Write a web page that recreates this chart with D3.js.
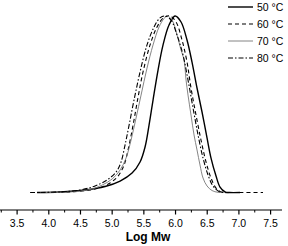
<!DOCTYPE html>
<html>
<head>
<meta charset="utf-8">
<script src="https://cdn.jsdelivr.net/npm/d3@7"></script>
<style>
  html, body { margin: 0; padding: 0; background: #fff; }
  svg { display: block; font-family: "Liberation Sans", Arial, sans-serif; }
</style>
</head>
<body>
<svg id="chart" width="288" height="246"></svg>
<script>
/* ── Data: GPC traces, normalized weight fraction vs Log Mw ── */
const xTicks = [3.5, 4.0, 4.5, 5.0, 5.5, 6.0, 6.5, 7.0, 7.5];
const xMinor = [3.25, 3.75, 4.25, 4.75, 5.25, 5.75, 6.25, 6.75, 7.25];

const t50 = [
  [3.815,0],[4.178,0.003],[4.573,0.014],[4.888,0.034],[5.125,0.065],[5.314,0.110],
  [5.440,0.173],[5.519,0.258],[5.582,0.382],[5.645,0.524],[5.724,0.694],[5.803,0.836],
  [5.897,0.949],[5.992,1.0],[6.087,0.966],[6.181,0.864],[6.260,0.739],[6.339,0.592],
  [6.418,0.456],[6.497,0.309],[6.560,0.195],[6.639,0.093],[6.702,0.031],[6.781,0.004],
  [6.85,0],[7.017,0]
];
const t60 = [
  [3.942,0],[4.336,0.003],[4.651,0.014],[4.809,0.028],[4.967,0.054],[5.093,0.093],
  [5.188,0.156],[5.251,0.241],[5.330,0.382],[5.409,0.541],[5.487,0.683],[5.598,0.836],
  [5.708,0.938],[5.817,0.992],[5.913,1.0],[6.008,0.966],[6.102,0.864],[6.181,0.739],
  [6.244,0.592],[6.323,0.439],[6.402,0.297],[6.481,0.173],[6.560,0.082],[6.639,0.025],
  [6.733,0.001],[6.85,0],[7.380,0]
];
const t70 = [
  [3.863,0],[4.336,0.003],[4.651,0.017],[4.841,0.042],[4.998,0.076],[5.125,0.127],
  [5.219,0.195],[5.298,0.297],[5.377,0.422],[5.456,0.552],[5.550,0.705],[5.645,0.836],
  [5.740,0.938],[5.819,0.986],[5.866,1.0],[5.945,0.977],[6.024,0.892],[6.087,0.807],
  [6.134,0.751],[6.166,0.637],[6.197,0.552],[6.244,0.439],[6.292,0.326],[6.339,0.241],
  [6.386,0.156],[6.434,0.082],[6.497,0.037],[6.576,0.011],[6.670,0.001],[6.781,0]
];
const t80 = [
  [3.705,0],[4.178,0.003],[4.494,0.014],[4.730,0.037],[4.920,0.071],[5.062,0.116],
  [5.140,0.173],[5.203,0.269],[5.267,0.382],[5.345,0.524],[5.440,0.683],[5.550,0.836],
  [5.661,0.938],[5.755,0.989],[5.834,1.0],[5.929,0.977],[6.024,0.892],[6.118,0.779],
  [6.197,0.637],[6.276,0.479],[6.355,0.326],[6.434,0.195],[6.513,0.099],[6.591,0.037],
  [6.686,0.006],[6.797,0]
];

const series = [
  { name: '50 °C', data: t50, color: '#000', width: 1.4, dash: null },
  { name: '60 °C', data: t60, color: '#000', width: 1.1, dash: '4,3' },
  { name: '70 °C', data: t70, color: '#777', width: 0.9, dash: null },
  { name: '80 °C', data: t80, color: '#000', width: 1.1, dash: '5,2,1.5,2' },
];

/* ── Scales ─────────────────────────────────────────── */
const svg = d3.select('#chart');
const x = d3.scaleLinear().domain([3.23, 7.68]).range([0, 282]);
const y = d3.scaleLinear().domain([0, 1]).range([192.5, 16]);

const line = d3.line()
  .x(d => x(d[0]))
  .y(d => y(d[1]))
  .curve(d3.curveCatmullRom.alpha(0.5));

// Curves
svg.append('g').selectAll('path')
  .data(series).join('path')
  .attr('d', d => line(d.data))
  .attr('fill', 'none')
  .attr('stroke', d => d.color)
  .attr('stroke-width', d => d.width)
  .attr('stroke-dasharray', d => d.dash);

/* ── X axis (ticks pointing down) ──────────────────── */
const axisY = 210;
const ax = svg.append('g').attr('transform', `translate(0,${axisY})`);
ax.append('line')
  .attr('x1', x.range()[0]).attr('x2', x.range()[1])
  .attr('stroke', '#000').attr('stroke-width', 1.2);

ax.selectAll('.minor').data(xMinor).join('line')
  .attr('class', 'minor')
  .attr('x1', d => x(d)).attr('x2', d => x(d))
  .attr('y1', 0).attr('y2', 2.5)
  .attr('stroke', '#000').attr('stroke-width', 1);

ax.selectAll('.major').data(xTicks).join('line')
  .attr('class', 'major')
  .attr('x1', d => x(d)).attr('x2', d => x(d))
  .attr('y1', 0).attr('y2', 4.5)
  .attr('stroke', '#000').attr('stroke-width', 1.2);

ax.selectAll('text').data(xTicks).join('text')
  .attr('x', d => x(d)).attr('y', 16.5)
  .attr('text-anchor', 'middle')
  .style('font-size', '10.5px')
  .text(d => d.toFixed(1));

svg.append('text')
  .attr('x', 148).attr('y', 241)
  .attr('text-anchor', 'middle')
  .style('font-size', '12px').style('font-weight', 'bold')
  .text('Log Mw');

/* ── Legend ─────────────────────────────────────────── */
const lg = svg.append('g').selectAll('g')
  .data(series).join('g')
  .attr('transform', (d, i) => `translate(228,${7 + i * 17})`);

lg.append('line')
  .attr('x1', 0).attr('x2', 25)
  .attr('stroke', d => d.color)
  .attr('stroke-width', d => d.width)
  .attr('stroke-dasharray', d => d.dash);

lg.append('text')
  .attr('x', 29).attr('y', 3.8)
  .style('font-size', '10.5px')
  .text(d => d.name);
</script>
</body>
</html>
